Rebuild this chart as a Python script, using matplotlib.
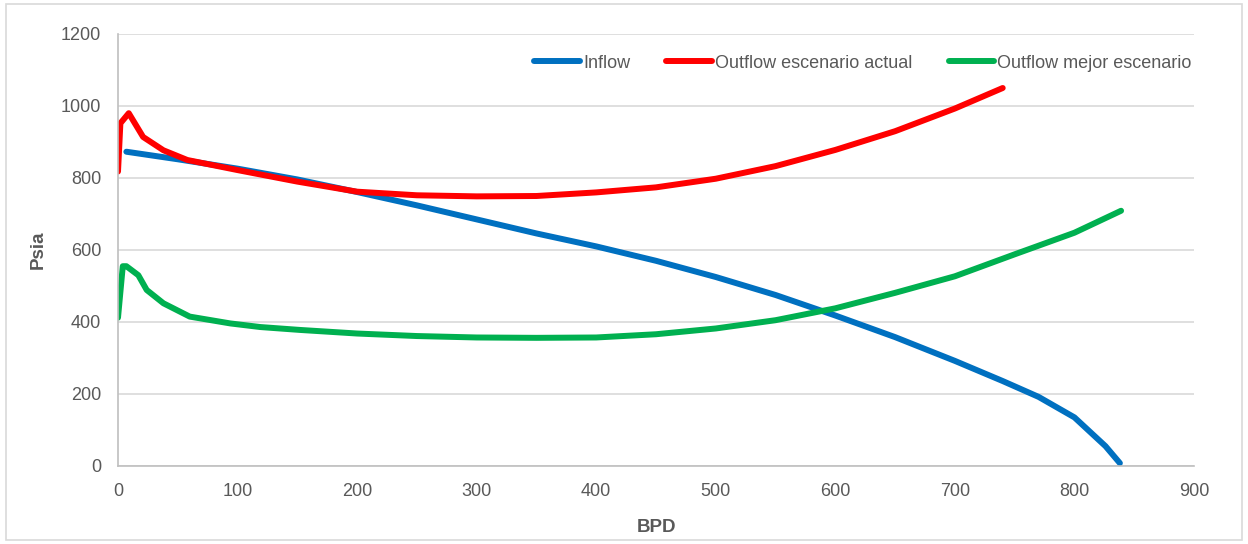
import matplotlib
matplotlib.use("Agg")
import matplotlib.pyplot as plt
from matplotlib.patches import Rectangle

# Inflow (IPR) curve
inflow_bpd = [7, 50, 100, 150, 200, 250, 300, 350, 400, 450, 500, 550, 600, 650, 700, 740, 770, 800, 826, 838]
inflow_psia = [873, 852, 826, 796, 761, 724, 685, 646, 610, 570, 525, 475, 418, 358, 292, 236, 192, 135, 55, 8]

# Outflow, current scenario
actual_bpd = [0, 2, 9, 21, 38, 58, 100, 150, 200, 250, 300, 350, 400, 450, 500, 550, 600, 650, 700, 740]
actual_psia = [818, 952, 980, 914, 877, 850, 822, 790, 762, 752, 749, 750, 760, 774, 798, 833, 878, 930, 993, 1050]

# Outflow, best scenario
best_bpd = [0, 4, 7, 17, 24, 38, 60, 94, 119, 152, 200, 250, 300, 350, 400, 450, 500, 550, 600, 650, 700, 750, 800, 839]
best_psia = [412, 555, 555, 530, 489, 452, 415, 396, 386, 378, 368, 361, 357, 356, 357, 366, 382, 405, 438, 481, 527, 588, 648, 709]

x_ticks = list(range(0, 1000, 100))
y_ticks = list(range(0, 1400, 200))

plt.rcParams['font.family'] = ['Liberation Sans', 'DejaVu Sans']
text_color = '#595959'

fig = plt.figure(figsize=(12.48, 5.44), dpi=100)
ax = fig.add_axes([118/1248, 1 - 466/544, (1194 - 118)/1248, (466 - 34)/544])

lw = 4.3
style = dict(lw=lw, solid_capstyle='round', solid_joinstyle='round')
ax.plot(inflow_bpd, inflow_psia, color='#0070C0', label='Inflow', **style)
ax.plot(actual_bpd, actual_psia, color='#FF0000', label='Outflow escenario actual', **style)
ax.plot(best_bpd, best_psia, color='#00B050', label='Outflow mejor escenario', **style)

ax.set_xlim(0, 900)
ax.set_ylim(0, 1200)
ax.set_xticks(x_ticks)
ax.set_yticks(y_ticks)
ax.grid(axis='y', color='#d9d9d9', lw=1.2)
ax.set_axisbelow(True)
for s in ('top', 'right'):
    ax.spines[s].set_visible(False)
for s in ('left', 'bottom'):
    ax.spines[s].set_color('#bfbfbf')
    ax.spines[s].set_linewidth(1.2)
ax.tick_params(length=0, labelsize=13, labelcolor=text_color, pad=12)
ax.tick_params(axis='x', pad=12)

ax.set_xlabel('BPD', fontsize=13.5, fontweight='bold', color=text_color, labelpad=14)
ax.set_ylabel('Psia', fontsize=13.5, fontweight='bold', color=text_color, labelpad=10)

leg = ax.legend(loc='upper right', bbox_to_anchor=(1.013, 0.99), ncol=3, frameon=False,
                fontsize=13, handlelength=2.5, handletextpad=0.2, columnspacing=2.0)
for t in leg.get_texts():
    t.set_color(text_color)

fig.patches.append(Rectangle((6/1248, 4/544), 1 - 12/1248, 1 - 8/544, transform=fig.transFigure,
                             fill=False, edgecolor='#d9d9d9', lw=1.2))

fig.savefig('out.png', dpi=100)
